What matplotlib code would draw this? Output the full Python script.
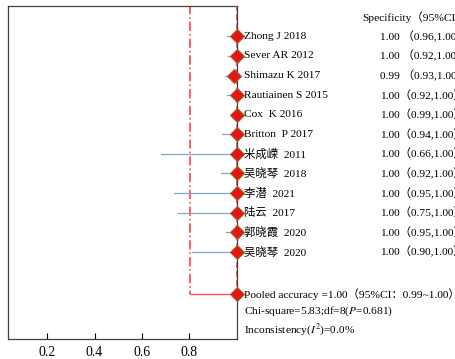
import matplotlib.pyplot as plt
from matplotlib import transforms

plt.rcParams['font.family'] = ['Liberation Serif', 'Noto Sans CJK SC']
plt.rcParams['mathtext.fontset'] = 'stix'

studies = ['Zhong J 2018', 'Sever AR 2012', 'Shimazu K 2017', 'Rautiainen S 2015',
           'Cox  K 2016', 'Britton  P 2017', '米成嵘  2011', '吴晓琴  2018',
           '李潜  2021', '陆云  2017', '郭晓霞  2020', '吴晓琴  2020']
spec = [1.00, 1.00, 0.99, 1.00, 1.00, 1.00, 1.00, 1.00, 1.00, 1.00, 1.00, 1.00]
# lower ends of the CI bars as drawn
ci_low = [0.959, 0.963, 0.951, 0.959, 0.976, 0.938, 0.681, 0.934, 0.736, 0.752, 0.955, 0.812]
ci_text = ['1.00 （0.96,1.00）', '1.00 （0.92,1.00）', '0.99 （0.93,1.00）',
           '1.00（0.92,1.00）', '1.00（0.99,1.00）', '1.00（0.94,1.00）',
           '1.00（0.66,1.00）', '1.00（0.92,1.00）', '1.00（0.95,1.00）',
           '1.00（0.75,1.00）', '1.00（0.95,1.00）', '1.00（0.90,1.00）']
pooled = 1.00
pooled_low = 0.805
xticks = [0.2, 0.4, 0.6, 0.8]

fig = plt.figure(figsize=(4.55, 3.59), dpi=100)
ax = fig.add_axes([7.5/455, 1-339/359, 229/455, 333/359])

ys = list(range(len(studies)))
y_pool = 13.15
y_chi = 14.05
y_inc = 15.0

ax.plot([pooled_low, pooled_low], [-1.6, y_pool], color='#ff3030', lw=1.1, ls=(0, (6, 2, 1, 2)))
ax.plot([pooled, pooled], [-1.6, y_pool], color='#ff3030', lw=1.1, ls=(0, (4, 2)), zorder=3)
ax.plot([pooled_low, pooled], [y_pool, y_pool], color='#ff5050', lw=1.0)

for y, lo, s in zip(ys, ci_low, spec):
    ax.plot([lo, s], [y, y], color='#7fa6d4', lw=0.9)
ax.plot(spec, ys, 'D', ms=6.8, mfc='#e81414', mec='#a0602a', mew=0.8, zorder=4, clip_on=False)
ax.plot([pooled], [y_pool], 'D', ms=6.8, mfc='#e81414', mec='#a0602a', mew=0.8, zorder=4, clip_on=False)

ax.set_xlim(0.032, 1.0)
ax.set_ylim(15.45, -1.55)
ax.set_yticks([])
ax.set_xticks(xticks)
ax.set_xticklabels([f'{t:.1f}' for t in xticks], fontsize=10)
ax.tick_params(axis='x', direction='in', length=4, width=0.8, pad=5)
for sp in ax.spines.values():
    sp.set_color('#404040')
    sp.set_linewidth(0.9)

tr = transforms.blended_transform_factory(fig.transFigure, ax.transData)
fs = 8.2
ax.text(362/455, -0.97, 'Specificity（95%CI）', transform=tr, fontsize=fs, va='center', clip_on=False)
for y, name, ct in zip(ys, studies, ci_text):
    ax.text(244/455, y, name, transform=tr, fontsize=fs, va='center', clip_on=False)
    ax.text(380/455, y, ct, transform=tr, fontsize=fs, va='center', clip_on=False)
ax.text(244/455, y_pool, 'Pooled accuracy =1.00（95%CI：0.99~1.00）', transform=tr,
        fontsize=fs, va='center', clip_on=False)
ax.text(244/455, y_chi, 'Chi-square=5.83;df=8($P$=0.681)', transform=tr,
        fontsize=fs, va='center', clip_on=False)
ax.text(244/455, y_inc, 'Inconsistency($I^2$)=0.0%', transform=tr,
        fontsize=fs, va='center', clip_on=False)

fig.savefig('out.png', dpi=100)
